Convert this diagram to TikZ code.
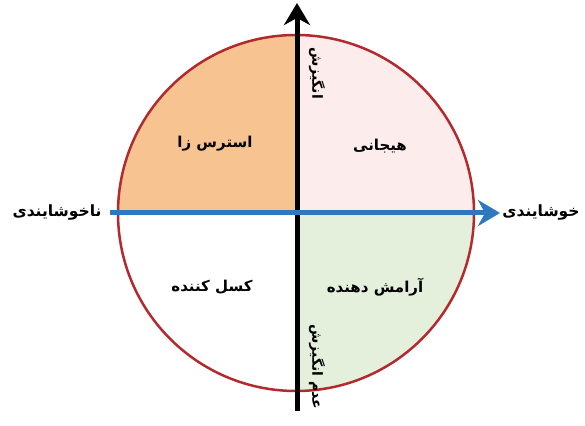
\documentclass[tikz,border=0pt]{standalone}
\usepackage{fontspec}
\usetikzlibrary{arrows.meta}
\newfontfamily\arabicfont[Script=Arabic]{DejaVu Sans}
\TeXXeTstate=1
\definecolor{qorange}{HTML}{F7C491}
\definecolor{qpink}{HTML}{FCECEC}
\definecolor{qgreen}{HTML}{E5F0DC}
\definecolor{circred}{HTML}{B22A2E}
\definecolor{axblue}{HTML}{2E78C2}
\tikzset{
  qlabel/.style={font=\arabicfont\bfseries\fontsize{15}{17}\selectfont, inner sep=1pt},
  axlabel/.style={font=\arabicfont\bfseries\fontsize{15.5}{17}\selectfont, inner sep=1pt},
  vlabel/.style={font=\arabicfont\bfseries\fontsize{14}{16}\selectfont, inner sep=1pt, rotate=-90},
  bigtip/.style={-{Stealth[length=22pt,width=26pt,inset=7pt]}},
}
\begin{document}
\begin{tikzpicture}[x=1pt,y=1pt]
\useasboundingbox (0,0) rectangle (585,425);
\coordinate (c) at (296,212);
\def\R{178}
\begin{scope}
  \clip (c) circle (\R);
  \fill[qorange] (c) rectangle ++(-\R,\R);
  \fill[qpink] (c) rectangle ++(\R,\R);
  \fill[qgreen] (c) rectangle ++(\R,-\R);
\end{scope}
\draw[circred, line width=2.5pt] (c) circle (\R);
% axes
\coordinate (vb) at (297,14);
\coordinate (vt) at (297,422);
\coordinate (hl) at (110,212);
\coordinate (hr) at (500,212);
\draw[black, line width=5pt, bigtip] (vb) -- (vt);
\draw[axblue, line width=5pt, bigtip] (hl) -- (hr);
% quadrant labels
\node[qlabel] (q1) at (215,281) {\beginR استرس زا\endR};
\node[qlabel] (q2) at (380,279) {\beginR هیجانی\endR};
\node[qlabel] (q3) at (212,138) {\beginR کسل کننده\endR};
\node[qlabel] (q4) at (375,138) {\beginR آرامش دهنده\endR};
% axis labels
\node[axlabel] (neg) at (57,212) {\beginR ناخوشایندی\endR};
\node[axlabel] (pos) at (541,212) {\beginR خوشایندی\endR};
\node[vlabel] (mot) at (317,352) {\beginR انگیزش\endR};
\node[vlabel] (nomot) at (317,58) {\beginR عدم انگیزش\endR};
\end{tikzpicture}
\end{document}
